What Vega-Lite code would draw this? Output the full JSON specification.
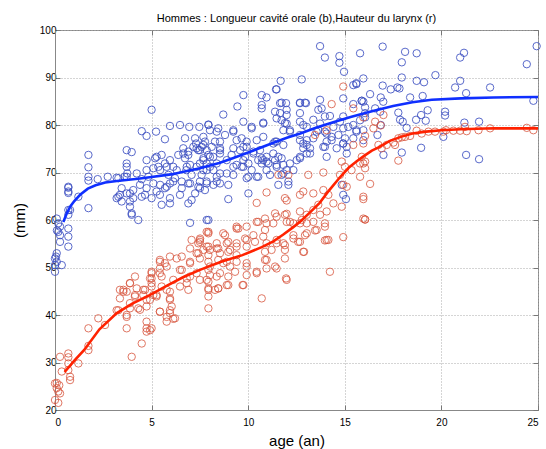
{
"$schema":"https://vega.github.io/schema/vega-lite/v6.json",
"width":483,"height":380,
"autosize":{"type":"none"},
"padding":{"left":55,"top":30,"right":8,"bottom":39},
"title":{"text":"Hommes : Longueur cavité orale (b),Hauteur du larynx (r)","font":"Liberation Sans","fontSize":11,"fontWeight":"normal","color":"#000","anchor":"middle","offset":1},
"config":{
 "view":{"stroke":"#888","strokeWidth":1},
 "axis":{"labelFont":"Liberation Sans","labelFontSize":10,"labelColor":"#000","titleFont":"Liberation Sans","titleFontSize":15,"titleFontWeight":"normal","titleColor":"#000","domainColor":"#888","tickColor":"#777","tickSize":-5,"gridColor":"#aaa","gridDash":[1,2],"gridOpacity":1}
},
"datasets":{
"blue":[
{"a":0.09,"v":60.3},{"a":0.17,"v":59.3},{"a":0.26,"v":58.6},{"a":0.17,"v":57.5},{"a":0.26,"v":56.8},{"a":0.26,"v":55.4},{"a":0.09,"v":53.0},{"a":0,"v":51.9},{"a":0.09,"v":51.2},{"a":0,"v":50.5},{"a":0,"v":49.1},{"a":0.35,"v":50.5},{"a":0.05,"v":52.3},{"a":0.1,"v":57.8},
{"a":0.69,"v":66.8},{"a":0.69,"v":65.7},{"a":0.69,"v":62.1},{"a":0.69,"v":61.1},{"a":0.69,"v":58.2},{"a":0.69,"v":56.5},{"a":0.69,"v":54.4},{"a":0.69,"v":67.0},{"a":0.69,"v":66.0},{"a":0.78,"v":62.1},{"a":1.21,"v":64.9},
{"a":1.73,"v":73.7},{"a":1.73,"v":71.1},{"a":1.73,"v":69.1},{"a":1.73,"v":68.3},{"a":1.73,"v":62.5},{"a":2.21,"v":68.6},{"a":2.73,"v":69.1},{"a":3.19,"v":68.9},{"a":3.28,"v":68.8},{"a":3.28,"v":64.9},{"a":3.45,"v":66.7},{"a":3.88,"v":65.6},{"a":3.88,"v":62.8},{"a":3.97,"v":61.1},{"a":4.05,"v":64.6},{"a":3.97,"v":61.4},{"a":4.31,"v":60.0},{"a":3.71,"v":74.7},{"a":3.97,"v":74.3},{"a":3.71,"v":71.9},{"a":3.71,"v":71.2},{"a":3.71,"v":69.1},{"a":3.74,"v":69.8},{"a":3.6,"v":69.1},{"a":4.23,"v":69.8},{"a":4.49,"v":68.6},{"a":4.49,"v":78.7},{"a":4.74,"v":77.7},{"a":5.0,"v":83.2},{"a":5.23,"v":78.6},{"a":5.69,"v":77.0},{"a":5.95,"v":79.8},{"a":6.47,"v":80.0},{"a":6.95,"v":79.6},{"a":7.47,"v":79.6},{"a":7.94,"v":80.1},{"a":8.37,"v":78.6},{"a":6.73,"v":77.2},{"a":7.33,"v":75.1},{"a":7.76,"v":76.5},{"a":8.11,"v":75.4},{"a":4.74,"v":72.6},{"a":4.74,"v":70.5},{"a":4.83,"v":69.1},{"a":5.18,"v":73.0},{"a":5.35,"v":71.2},{"a":5.52,"v":73.7},{"a":5.69,"v":71.9},{"a":5.87,"v":69.5},{"a":5.95,"v":72.6},{"a":6.12,"v":71.2},{"a":6.21,"v":68.8},{"a":6.38,"v":73.7},{"a":6.64,"v":75.1},{"a":6.73,"v":73.0},{"a":6.82,"v":71.2},{"a":6.9,"v":74.4},{"a":6.99,"v":71.6},{"a":7.07,"v":69.5},{"a":7.16,"v":75.4},{"a":7.25,"v":77.2},{"a":7.42,"v":74.7},{"a":7.59,"v":75.4},{"a":7.68,"v":73.0},{"a":7.68,"v":70.5},{"a":7.5,"v":68.1},{"a":6.9,"v":67.7},{"a":6.56,"v":66.7},{"a":5.95,"v":67.7},{"a":5.69,"v":66.7},{"a":5.26,"v":66.0},{"a":4.74,"v":66.7},{"a":4.4,"v":67.4},{"a":4.05,"v":66.3},{"a":3.71,"v":65.6},{"a":3.36,"v":65.3},{"a":3.19,"v":64.6},{"a":3.45,"v":63.9},{"a":3.88,"v":63.9},{"a":4.49,"v":64.9},{"a":5.0,"v":64.6},{"a":5.43,"v":65.3},{"a":5.95,"v":64.6},{"a":6.47,"v":65.3},{"a":7.07,"v":64.2},{"a":7.25,"v":65.6},{"a":7.5,"v":66.7},{"a":5.09,"v":67.7},{"a":5.44,"v":67.4},{"a":5.78,"v":67.0},{"a":6.12,"v":68.1},{"a":6.56,"v":68.1},{"a":6.99,"v":67.7},{"a":7.42,"v":67.0},{"a":7.76,"v":66.3},{"a":8.2,"v":67.4},{"a":8.37,"v":69.1},{"a":5.52,"v":63.2},{"a":5.95,"v":63.5},{"a":6.9,"v":63.5},{"a":6.99,"v":59.4},{"a":7.85,"v":60.0},{"a":4.66,"v":65.3},{"a":5.09,"v":70.9},{"a":5.44,"v":70.5},{"a":5.78,"v":71.2},{"a":6.3,"v":70.5},{"a":6.8,"v":70.5},{"a":7.33,"v":71.2},{"a":7.85,"v":71.9},{"a":8.2,"v":70.5},{"a":8.54,"v":75.1},{"a":7.3,"v":76.1},{"a":7.68,"v":75.8},{"a":7.94,"v":73.7},{"a":6.9,"v":73.7},{"a":6.64,"v":74.0},{"a":5.26,"v":73.3},{"a":7.59,"v":69.5},
{"a":13.72,"v":96.6},{"a":13.97,"v":94.2},{"a":14.72,"v":94.5},{"a":14.72,"v":93.1},{"a":14.96,"v":91.2},{"a":15.79,"v":95.1},{"a":15.96,"v":89.8},{"a":15.6,"v":88.6},{"a":11.68,"v":89.3},{"a":12.77,"v":89.6},{"a":11.47,"v":87.5},{"a":10.7,"v":86.3},{"a":10.95,"v":85.8},{"a":9.75,"v":86.3},{"a":9.44,"v":83.9},{"a":8.71,"v":82.2},{"a":10.7,"v":84.2},{"a":11.39,"v":82.8},{"a":11.73,"v":84.7},{"a":11.99,"v":83.2},{"a":12.68,"v":84.7},{"a":12.94,"v":84.7},{"a":13.72,"v":85.3},{"a":13.8,"v":83.5},{"a":14.92,"v":85.6},{"a":15.44,"v":84.4},{"a":15.87,"v":85.1},{"a":14.23,"v":81.9},{"a":14.92,"v":81.8},{"a":13.37,"v":81.1},{"a":7.94,"v":80.0},{"a":8.45,"v":79.3},{"a":9.23,"v":78.9},{"a":9.75,"v":80.7},{"a":10.18,"v":79.6},{"a":10.78,"v":80.5},{"a":11.47,"v":81.4},{"a":11.9,"v":80.4},{"a":12.16,"v":78.9},{"a":13.03,"v":79.6},{"a":13.63,"v":78.9},{"a":14.06,"v":78.2},{"a":14.41,"v":79.6},{"a":15.18,"v":79.6},{"a":15.6,"v":78.9},{"a":7.68,"v":77.5},{"a":8.28,"v":76.5},{"a":8.8,"v":77.9},{"a":9.4,"v":76.8},{"a":9.92,"v":75.4},{"a":10.44,"v":76.8},{"a":10.78,"v":77.5},{"a":11.47,"v":76.5},{"a":11.82,"v":75.8},{"a":12.68,"v":76.8},{"a":13.03,"v":75.8},{"a":13.37,"v":77.2},{"a":13.97,"v":75.4},{"a":14.32,"v":76.8},{"a":14.92,"v":76.1},{"a":15.44,"v":77.2},{"a":15.96,"v":76.8},{"a":7.5,"v":74.7},{"a":8.02,"v":73.3},{"a":8.54,"v":74.7},{"a":9.14,"v":73.7},{"a":9.75,"v":72.6},{"a":10.27,"v":74.0},{"a":10.7,"v":73.0},{"a":10.95,"v":72.3},{"a":11.3,"v":74.0},{"a":11.73,"v":73.0},{"a":12.16,"v":71.9},{"a":12.68,"v":73.3},{"a":12.85,"v":75.1},{"a":13.2,"v":74.0},{"a":7.5,"v":71.9},{"a":7.85,"v":70.5},{"a":8.37,"v":71.9},{"a":8.89,"v":69.8},{"a":9.4,"v":71.6},{"a":9.75,"v":71.2},{"a":10.01,"v":69.1},{"a":10.52,"v":69.1},{"a":10.95,"v":70.5},{"a":11.47,"v":71.6},{"a":11.82,"v":69.8},{"a":12.08,"v":68.1},{"a":7.85,"v":67.7},{"a":8.37,"v":68.1},{"a":8.97,"v":67.4},{"a":10.01,"v":65.6},{"a":8.97,"v":64.4},{"a":7.94,"v":60.0},{"a":14.92,"v":65.3},{"a":15.06,"v":64.4},{"a":14.84,"v":67.4},
{"a":10.7,"v":83.5},{"a":11.44,"v":87.5},{"a":11.65,"v":84.6},{"a":11.96,"v":84.6},{"a":11.65,"v":82.5},{"a":11.73,"v":81.0},{"a":11.99,"v":82.1},{"a":11.99,"v":80.3},{"a":11.39,"v":76.5},{"a":11.3,"v":76.1},{"a":11.82,"v":78.9},{"a":12.16,"v":78.6},{"a":12.68,"v":84.6},{"a":12.99,"v":84.6},{"a":12.68,"v":82.5},{"a":12.68,"v":80.7},{"a":12.85,"v":80.0},{"a":12.68,"v":77.9},{"a":13.03,"v":76.8},{"a":12.85,"v":76.1},{"a":12.68,"v":73.0},{"a":12.51,"v":72.6},{"a":13.03,"v":74.0},{"a":13.2,"v":75.1},{"a":13.63,"v":83.2},{"a":13.97,"v":81.8},{"a":13.72,"v":80.3},{"a":13.54,"v":78.6},{"a":13.97,"v":78.6},{"a":14.32,"v":77.5},{"a":14.06,"v":76.5},{"a":13.89,"v":75.4},{"a":14.06,"v":73.3},{"a":14.75,"v":80.7},{"a":14.92,"v":79.3},{"a":15.01,"v":77.2},{"a":14.67,"v":77.9},{"a":14.92,"v":76.1},{"a":14.58,"v":75.1},{"a":15.1,"v":74.0},{"a":15.1,"v":75.4},{"a":15.44,"v":80.0},{"a":15.6,"v":78.6},{"a":15.96,"v":84.9},{"a":16.05,"v":82.5},{"a":15.79,"v":81.0},{"a":15.44,"v":88.4},{"a":15.6,"v":88.8},{"a":8.02,"v":78.9},{"a":8.54,"v":76.5},{"a":9.23,"v":78.6},{"a":9.66,"v":77.2},{"a":9.92,"v":76.5},{"a":10.18,"v":79.3},{"a":10.78,"v":80.3},{"a":9.23,"v":75.1},{"a":9.75,"v":75.4},{"a":10.27,"v":74.4},{"a":10.61,"v":74.7},{"a":10.78,"v":72.6},{"a":10.95,"v":73.3},{"a":10.52,"v":72.6},{"a":10.7,"v":71.9},{"a":11.04,"v":71.9},{"a":11.39,"v":72.6},{"a":11.56,"v":73.3},{"a":11.47,"v":71.2},{"a":11.82,"v":71.6},{"a":11.99,"v":70.5},{"a":12.34,"v":70.5},{"a":9.58,"v":74.7},{"a":9.84,"v":73.3},{"a":10.01,"v":71.9},{"a":9.66,"v":71.2},{"a":10.18,"v":70.5},{"a":9.23,"v":71.2},{"a":8.89,"v":72.6},{"a":8.54,"v":74.0},{"a":8.19,"v":73.3},{"a":7.85,"v":74.7},{"a":7.68,"v":72.6},{"a":8.02,"v":71.2},{"a":8.54,"v":69.8},{"a":9.23,"v":69.5},{"a":9.92,"v":68.8},{"a":10.44,"v":69.1},{"a":11.13,"v":69.5},{"a":11.73,"v":69.5},{"a":12.08,"v":67.4},{"a":11.56,"v":67.4},{"a":8.54,"v":67.7},{"a":7.85,"v":68.1},
{"a":16.96,"v":96.5},{"a":18.12,"v":95.4},{"a":18.72,"v":95.1},{"a":17.95,"v":93.2},{"a":20.97,"v":94.2},{"a":21.17,"v":95.2},{"a":24.42,"v":92.8},{"a":24.93,"v":96.6},{"a":16.96,"v":88.3},{"a":17.95,"v":90.0},{"a":18.72,"v":89.3},{"a":19.1,"v":89.0},{"a":19.69,"v":90.5},{"a":20.97,"v":89.3},{"a":20.71,"v":87.9},{"a":21.28,"v":86.7},{"a":22.52,"v":87.9},{"a":17.38,"v":87.5},{"a":17.72,"v":87.9},{"a":17.83,"v":87.7},{"a":16.31,"v":86.5},{"a":16.86,"v":85.8},{"a":16.99,"v":84.9},{"a":18.38,"v":85.8},{"a":19.03,"v":86.1},{"a":15.88,"v":85.1},{"a":16.57,"v":83.5},{"a":16.83,"v":82.8},{"a":16.05,"v":83.7},{"a":16.05,"v":81.6},{"a":17.77,"v":82.6},{"a":17.86,"v":81.1},{"a":18.0,"v":80.7},{"a":18.69,"v":81.1},{"a":18.95,"v":82.1},{"a":19.19,"v":80.9},{"a":19.29,"v":83.1},{"a":20.19,"v":82.8},{"a":20.19,"v":82.0},{"a":18.2,"v":79.4},{"a":16.86,"v":80.0},{"a":15.96,"v":78.9},{"a":16.69,"v":77.9},{"a":17.0,"v":73.7},{"a":17.95,"v":74.2},{"a":18.95,"v":75.2},{"a":20.1,"v":77.5},{"a":21.28,"v":73.7},{"a":21.95,"v":72.8},{"a":21.19,"v":80.5},{"a":21.95,"v":80.7},{"a":24.76,"v":85.1}
],
"red":[
{"a":0,"v":25.6},{"a":0.09,"v":24.6},{"a":0.17,"v":23.9},{"a":0.26,"v":23.5},{"a":0,"v":22.1},{"a":0.17,"v":21.5},{"a":0.09,"v":25.7},{"a":0.22,"v":25.2},{"a":0.26,"v":31.2},{"a":0.69,"v":31.9},{"a":0.69,"v":31.1},{"a":0.69,"v":29.8},{"a":0.69,"v":28.4},{"a":0.78,"v":27.0},{"a":0.78,"v":26.3},{"a":0.35,"v":28.1},{"a":1.21,"v":29.8},{"a":1.73,"v":32.6},{"a":1.73,"v":33.5},{"a":1.73,"v":37.2},{"a":2.24,"v":39.3},{"a":2.59,"v":37.9},{"a":3.19,"v":41.0},{"a":3.71,"v":40.0},{"a":3.71,"v":37.2},{"a":3.97,"v":31.2},{"a":4.49,"v":34.0},{"a":3.54,"v":45.3},{"a":3.88,"v":46.7},{"a":4.14,"v":44.2},{"a":4.23,"v":45.6},{"a":4.57,"v":45.3},{"a":4.74,"v":43.2},{"a":4.74,"v":41.8},{"a":4.74,"v":37.2},{"a":4.92,"v":36.8},{"a":5.0,"v":49.1},{"a":5.0,"v":47.7},{"a":5.0,"v":46.0},{"a":5.43,"v":51.6},{"a":5.69,"v":50.9},{"a":5.52,"v":48.1},{"a":5.26,"v":44.2},{"a":5.43,"v":40.7},{"a":5.78,"v":39.6},{"a":5.95,"v":41.0},{"a":6.21,"v":39.3},{"a":6.3,"v":51.9},{"a":6.56,"v":49.5},{"a":6.82,"v":47.7},{"a":6.99,"v":51.2},{"a":7.07,"v":55.8},{"a":7.33,"v":53.0},{"a":7.42,"v":55.1},{"a":7.51,"v":56.1},{"a":7.94,"v":57.2},{"a":7.85,"v":54.4},{"a":7.94,"v":52.6},{"a":8.02,"v":50.2},{"a":7.94,"v":47.0},{"a":7.94,"v":41.4},{"a":8.37,"v":54.0},{"a":8.37,"v":48.1},{"a":8.28,"v":45.3},{"a":5.95,"v":43.5},{"a":4.14,"v":48.1},{"a":3.28,"v":41.0},
{"a":3.71,"v":39.6},{"a":4.74,"v":38.6},{"a":4.74,"v":36.5},{"a":5.0,"v":37.2},{"a":5.78,"v":38.6},{"a":6.12,"v":39.2},{"a":5.95,"v":40.4},{"a":6.04,"v":41.8},{"a":5.43,"v":40.7},{"a":4.4,"v":41.1},{"a":3.88,"v":42.5},{"a":3.88,"v":46.7},{"a":3.54,"v":44.9},{"a":4.14,"v":43.9},{"a":4.57,"v":44.2},{"a":4.66,"v":45.3},{"a":4.92,"v":43.2},{"a":5.09,"v":44.2},{"a":5.26,"v":43.9},{"a":4.92,"v":47.7},{"a":5.0,"v":48.8},{"a":5.0,"v":46.7},{"a":5.43,"v":48.8},{"a":5.43,"v":51.2},{"a":5.52,"v":46.0},{"a":5.95,"v":44.9},{"a":5.95,"v":43.2},{"a":5.78,"v":45.3},{"a":5.95,"v":52.3},{"a":6.12,"v":47.4},{"a":6.47,"v":49.5},{"a":6.56,"v":52.3},{"a":6.82,"v":46.7},{"a":6.9,"v":45.3},{"a":6.99,"v":54.0},{"a":6.99,"v":50.9},{"a":6.99,"v":48.1},{"a":7.33,"v":48.8},{"a":7.42,"v":53.0},{"a":7.5,"v":55.8},{"a":7.94,"v":57.5},{"a":7.94,"v":54.4},{"a":7.94,"v":49.5},{"a":7.94,"v":45.3},{"a":7.94,"v":43.9},{"a":8.37,"v":55.1},{"a":8.54,"v":53.0},{"a":8.45,"v":45.6},{"a":8.8,"v":56.8},{"a":8.97,"v":55.4},{"a":8.89,"v":51.2},{"a":8.97,"v":48.1},{"a":8.97,"v":46.3},{"a":9.32,"v":49.1},{"a":9.4,"v":52.6},{"a":9.49,"v":58.2},{"a":9.84,"v":56.1},{"a":9.92,"v":50.2},{"a":9.92,"v":48.4},{"a":9.75,"v":46.3},{"a":10.27,"v":56.8},{"a":10.44,"v":48.8},{"a":10.7,"v":43.5},{"a":10.87,"v":57.9},{"a":10.95,"v":51.6},{"a":10.87,"v":53.3},{"a":11.3,"v":59.3},{"a":11.39,"v":50.2},{"a":11.47,"v":55.1},{"a":11.9,"v":51.9},{"a":11.99,"v":47.4},{"a":12.34,"v":56.8},{"a":12.85,"v":53.3},{"a":13.03,"v":57.2},{"a":13.54,"v":57.9},{"a":14.06,"v":55.8},{"a":14.23,"v":49.1},{"a":12.68,"v":55.4},{"a":11.9,"v":54.7},{"a":11.99,"v":59.6},{"a":3.36,"v":45.3},{"a":3.36,"v":43.5},{"a":4.31,"v":41.4},{"a":3.88,"v":41.4},{"a":3.71,"v":44.9},{"a":5.43,"v":49.8},{"a":5.78,"v":50.2},{"a":6.47,"v":46.0},{"a":7.5,"v":47.4},{"a":8.54,"v":48.8},{"a":9.4,"v":54.4},{"a":9.06,"v":53.7},
{"a":7.85,"v":57.5},{"a":8.71,"v":57.2},{"a":9.4,"v":58.2},{"a":9.92,"v":58.6},{"a":10.52,"v":59.6},{"a":10.87,"v":60.3},{"a":11.47,"v":60.7},{"a":11.9,"v":61.1},{"a":12.16,"v":59.6},{"a":12.68,"v":59.3},{"a":13.03,"v":59.3},{"a":13.46,"v":57.8},{"a":13.97,"v":58.6},{"a":13.97,"v":55.7},{"a":14.15,"v":55.8},{"a":14.92,"v":56.4},{"a":15.96,"v":60.3},{"a":7.5,"v":55.4},{"a":7.68,"v":53.7},{"a":8.02,"v":53.7},{"a":8.45,"v":54.0},{"a":8.89,"v":55.1},{"a":8.97,"v":53.3},{"a":9.4,"v":55.1},{"a":9.92,"v":55.8},{"a":9.92,"v":54.4},{"a":10.35,"v":55.4},{"a":10.78,"v":56.5},{"a":10.95,"v":55.1},{"a":11.21,"v":53.7},{"a":11.47,"v":55.8},{"a":11.82,"v":55.1},{"a":11.9,"v":53.7},{"a":12.34,"v":56.1},{"a":12.59,"v":55.4},{"a":12.94,"v":56.8},{"a":12.89,"v":53.3},{"a":7.5,"v":51.9},{"a":7.94,"v":51.2},{"a":8.45,"v":51.6},{"a":8.71,"v":50.9},{"a":9.06,"v":50.2},{"a":9.4,"v":51.2},{"a":9.92,"v":50.9},{"a":10.44,"v":49.1},{"a":10.87,"v":51.6},{"a":10.95,"v":49.8},{"a":11.47,"v":49.8},{"a":11.96,"v":47.7},{"a":7.85,"v":47.4},{"a":8.02,"v":48.4},{"a":7.94,"v":45.6},{"a":8.45,"v":45.6},{"a":8.89,"v":46.3},{"a":9.71,"v":46.3},
{"a":14.92,"v":88.1},{"a":15.44,"v":83.5},{"a":15.96,"v":81.6},{"a":14.32,"v":84.4},{"a":13.46,"v":77.9},{"a":14.06,"v":78.9},{"a":15.44,"v":75.8},{"a":14.84,"v":72.3},{"a":15.01,"v":71.2},{"a":15.35,"v":70.5},{"a":15.96,"v":71.9},{"a":16.05,"v":70.9},{"a":15.79,"v":69.1},{"a":14.75,"v":69.5},{"a":14.92,"v":67.4},{"a":15.1,"v":67.0},{"a":11.56,"v":69.5},{"a":12.08,"v":69.5},{"a":13.11,"v":69.5},{"a":13.89,"v":70.0},{"a":10.95,"v":65.8},{"a":11.9,"v":64.6},{"a":11.99,"v":64.1},{"a":12.68,"v":65.3},{"a":12.85,"v":66.0},{"a":13.37,"v":65.6},{"a":13.89,"v":66.3},{"a":14.15,"v":65.3},{"a":10.44,"v":63.6},{"a":14.41,"v":63.5},{"a":14.84,"v":62.8},{"a":13.63,"v":63.2},{"a":12.68,"v":61.8},{"a":13.03,"v":61.1},{"a":13.37,"v":62.1},{"a":13.72,"v":61.1},{"a":14.06,"v":61.8},{"a":13.97,"v":59.3},{"a":13.37,"v":59.6},{"a":12.77,"v":60.0},{"a":12.34,"v":59.3},{"a":16.05,"v":60.1},{"a":11.39,"v":61.4},{"a":11.99,"v":61.3},{"a":9.4,"v":58.6},{"a":10.95,"v":59.3},{"a":10.44,"v":59.6},
{"a":16.57,"v":80.7},{"a":16.86,"v":79.9},{"a":16.48,"v":79.3},{"a":17.0,"v":82.1},{"a":16.05,"v":77.7},{"a":15.96,"v":76.1},{"a":15.88,"v":73.3},{"a":16.05,"v":72.3},{"a":15.79,"v":71.9},{"a":16.74,"v":75.8},{"a":16.91,"v":75.1},{"a":17.17,"v":75.8},{"a":17.52,"v":76.3},{"a":17.77,"v":77.2},{"a":17.95,"v":77.4},{"a":18.12,"v":77.5},{"a":18.38,"v":77.7},{"a":18.72,"v":78.8},{"a":18.98,"v":78.2},{"a":19.33,"v":78.6},{"a":19.67,"v":78.6},{"a":20.1,"v":78.6},{"a":20.24,"v":78.9},{"a":20.62,"v":78.8},{"a":20.97,"v":78.8},{"a":21.22,"v":79.6},{"a":21.31,"v":78.7},{"a":21.92,"v":78.9},{"a":22.52,"v":79.3},{"a":24.42,"v":79.4},{"a":24.76,"v":78.9},{"a":17.77,"v":72.5},{"a":17.6,"v":75.8},{"a":16.31,"v":67.6},{"a":15.96,"v":64.9},{"a":15.96,"v":64.4},{"a":16.05,"v":60.1}
],
"bline":[
{"a":0.43,"v":59.6},{"a":0.6,"v":61.3},{"a":0.8,"v":62.9},{"a":1.0,"v":64.0},{"a":1.3,"v":65.3},{"a":1.7,"v":66.6},{"a":2.1,"v":67.3},{"a":2.6,"v":67.9},{"a":3.2,"v":68.2},{"a":4.3,"v":68.7},{"a":4.9,"v":69.0},{"a":6.0,"v":69.6},{"a":6.6,"v":70.1},{"a":7.5,"v":70.9},{"a":8.5,"v":72.0},{"a":9.2,"v":73.0},{"a":10.0,"v":74.2},{"a":11.0,"v":75.8},{"a":12.0,"v":77.3},{"a":12.7,"v":78.2},{"a":13.5,"v":79.4},{"a":14.4,"v":80.6},{"a":15.3,"v":81.7},{"a":16.3,"v":82.8},{"a":17.5,"v":84.0},{"a":18.5,"v":84.8},{"a":19.5,"v":85.3},{"a":21.0,"v":85.6},{"a":22.7,"v":85.8},{"a":25.0,"v":85.9}
],
"rline":[
{"a":0.5,"v":28.0},{"a":1.0,"v":30.4},{"a":1.5,"v":32.6},{"a":2.3,"v":37.0},{"a":3.2,"v":40.4},{"a":4.0,"v":42.4},{"a":4.9,"v":44.2},{"a":5.8,"v":46.2},{"a":6.6,"v":47.9},{"a":7.5,"v":49.5},{"a":8.6,"v":51.2},{"a":9.7,"v":52.6},{"a":10.7,"v":54.3},{"a":11.3,"v":55.5},{"a":11.8,"v":56.9},{"a":12.3,"v":58.4},{"a":12.7,"v":59.7},{"a":13.2,"v":61.6},{"a":13.7,"v":63.6},{"a":14.2,"v":66.3},{"a":14.75,"v":69.0},{"a":15.2,"v":71.0},{"a":15.6,"v":72.3},{"a":16.0,"v":73.5},{"a":16.4,"v":74.6},{"a":16.8,"v":75.4},{"a":17.3,"v":76.6},{"a":17.9,"v":77.5},{"a":18.5,"v":78.2},{"a":19.2,"v":78.6},{"a":20.0,"v":78.9},{"a":21.0,"v":79.1},{"a":22.7,"v":79.3},{"a":25.0,"v":79.3}
]
},
"layer":[
{"data":{"name":"blue"},"mark":{"type":"point","shape":"circle","filled":false,"color":"#3c4fc2","strokeWidth":1,"size":55,"opacity":0.85},
 "encoding":{
  "x":{"field":"a","type":"quantitative","scale":{"domain":[0,25],"nice":false,"zero":false},"axis":{"orient":"bottom","title":"age (an)","values":[0,5,10,15,20,25],"grid":true,"labelPadding":12,"titlePadding":6}},
  "y":{"field":"v","type":"quantitative","scale":{"domain":[20,100],"nice":false,"zero":false},"axis":{"orient":"left","title":"(mm)","values":[20,30,40,50,60,70,80,90,100],"grid":true,"labelPadding":4,"titlePadding":12}}}},
{"data":{"name":"red"},"mark":{"type":"point","shape":"circle","filled":false,"color":"#d9553d","strokeWidth":1,"size":55,"opacity":0.8},
 "encoding":{"x":{"field":"a","type":"quantitative","axis":null},"y":{"field":"v","type":"quantitative","axis":null}}},
{"data":{"name":"bline"},"mark":{"type":"line","color":"#0f2fff","strokeWidth":2.6},
 "encoding":{"x":{"field":"a","type":"quantitative","axis":{"orient":"top","labels":false,"title":null,"grid":false,"domain":false,"values":[0,5,10,15,20,25]}},"y":{"field":"v","type":"quantitative","axis":{"orient":"right","labels":false,"title":null,"grid":false,"domain":false,"values":[20,30,40,50,60,70,80,90,100]}}}},
{"data":{"name":"rline"},"mark":{"type":"line","color":"#ff2200","strokeWidth":2.6},
 "encoding":{"x":{"field":"a","type":"quantitative","axis":null},"y":{"field":"v","type":"quantitative","axis":null}}}
],
"resolve":{"axis":{"x":"independent","y":"independent"}}
}
